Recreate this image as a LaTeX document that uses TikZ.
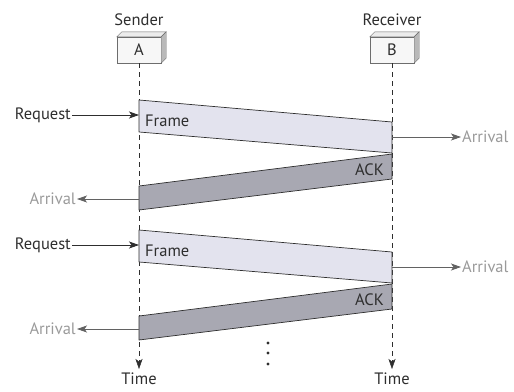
\documentclass[tikz,border=0pt]{standalone}
\usepackage{fontspec}
\setmainfont{PT Sans}
\usetikzlibrary{arrows.meta}

\definecolor{ink}{HTML}{2E2E2E}
\definecolor{faint}{HTML}{9A9A9A}
\definecolor{framefill}{HTML}{E3E3EE}
\definecolor{ackfill}{HTML}{A8A8B2}

\tikzset{
  lbl/.style={font=\fontsize{16.5}{18}\selectfont, text=ink, inner sep=1pt},
  far/.style={lbl, text=faint},
  station/.style={draw=ink!70, fill=gray!6, minimum width=44pt, minimum height=26pt, inner sep=0pt, lbl},
  life/.style={draw=ink, thin, dash pattern=on 5pt off 4pt},
  msg/.style={draw=ink, line width=0.7pt, line join=round},
  tip/.style={-{Stealth[length=10pt,width=7pt,inset=2.5pt]}},
  push/.style={tip, line width=0.8pt, draw=ink},
  pull/.style={tip, line width=0.8pt, draw=ink!75},
}

\begin{document}
\begin{tikzpicture}[x=1pt, y=-1pt, >=stealth]
  \useasboundingbox (0,0) rectangle (514,391);

  % stations
  \node[lbl] (sender) at (139,20) {Sender};
  \node[lbl] (receiver) at (392,20) {Receiver};
  \node[station] (boxA) at (139,50) {A};
  \node[station] (boxB) at (392,50) {B};
  \foreach \b in {boxA, boxB} {
    \fill[gray!15, draw=ink!70] (\b.north west) -- ++(5,-5) -- ([xshift=5pt, yshift=5pt]\b.north east) -- (\b.north east) -- cycle;
    \fill[gray!55, draw=ink!70] (\b.north east) -- ++(5,-5) -- ([xshift=5pt, yshift=5pt]\b.south east) -- (\b.south east) -- cycle;
  }

  % time lines
  \node[lbl, anchor=base, inner sep=0pt] (timeA) at (139,384) {Time};
  \node[lbl, anchor=base, inner sep=0pt] (timeB) at (392,384) {Time};
  \draw[life, tip] (boxA.south) -- (139,369);
  \draw[life, tip] (boxB.south) -- (392,369);

  % two exchanges
  \foreach \dy/\i in {0/1, 130/2} {
    \filldraw[msg, fill=framefill] (139,100+\dy) -- (392,122+\dy) -- (392,153+\dy) -- (139,132+\dy) -- cycle;
    \filldraw[msg, fill=ackfill] (392,154+\dy) -- (392,179+\dy) -- (139,210+\dy) -- (139,186+\dy) -- cycle;
    \node[lbl, anchor=west] (frame\i) at (144,121+\dy) {Frame};
    \node[lbl, anchor=east] (ack\i) at (385,170+\dy) {ACK};

    \node[lbl, anchor=east] (req\i) at (72,115+\dy) {Request};
    \coordinate (in\i) at (139,115+\dy);
    \draw[push] (req\i) -- (in\i);

    \coordinate (outB\i) at (392,137+\dy);
    \node[far, anchor=west] (arrB\i) at (461,137+\dy) {Arrival};
    \draw[pull] (outB\i) -- (arrB\i);

    \coordinate (outA\i) at (139,199+\dy);
    \node[far, anchor=east] (arrA\i) at (77,199+\dy) {Arrival};
    \draw[pull] (outA\i) -- (arrA\i);
  }

  % more to come
  \foreach \y in {343,353,364}
    \fill[ink] (268,\y) circle (1.6pt);
\end{tikzpicture}
\end{document}
